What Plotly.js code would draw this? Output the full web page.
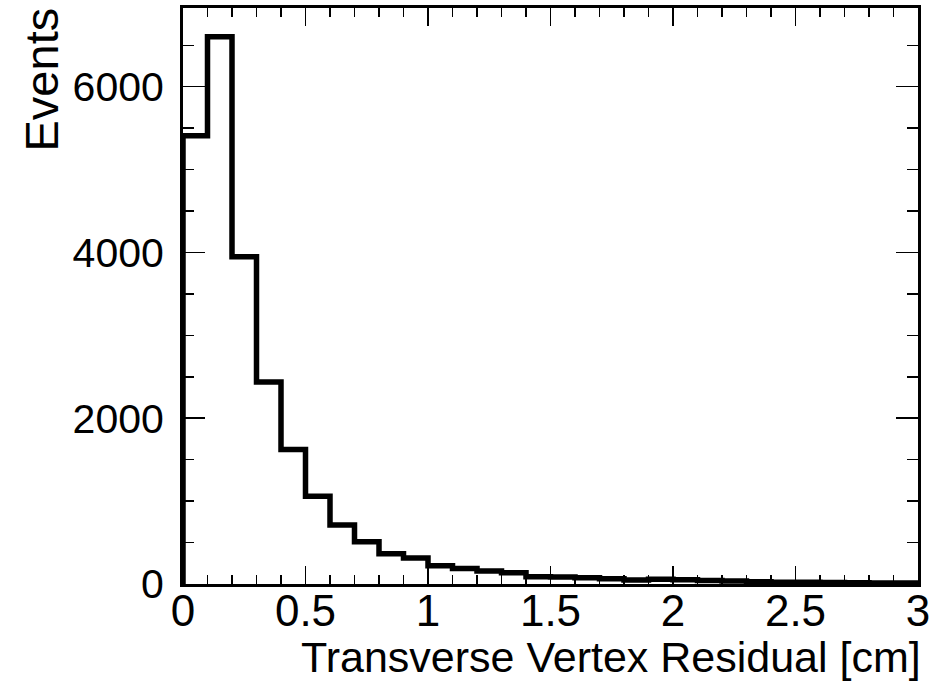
<!DOCTYPE html>
<html>
<head>
<meta charset="utf-8">
<script src="https://cdn.plot.ly/plotly-3.0.1.min.js"></script>
<style>html,body{margin:0;padding:0;background:#fff;}#chart{width:949px;height:681px;}</style>
</head>
<body>
<div id="chart"></div>
<script>
// Bin edges (width 0.1 cm) and counts per bin
const binLow = [0.0,0.1,0.2,0.3,0.4,0.5,0.6,0.7,0.8,0.9,1.0,1.1,1.2,1.3,1.4,1.5,1.6,1.7,1.8,1.9,2.0,2.1,2.2,2.3,2.4,2.5,2.6,2.7,2.8,2.9];
const binWidth = 0.1;
const counts = [5410,6602,3950,2438,1623,1060,711,510,365,314,219,187,157,136,88,84,76,64,48,57,50,42,35,28,22,20,17,15,13,12];
const xTitle = "Transverse Vertex Residual [cm]";
const yTitle = "Events";

// Build step outline from the arrays
const xs = [binLow[0]];
const ys = [0];
for (let i = 0; i < counts.length; i++) { xs.push(binLow[i]); ys.push(counts[i]); }
xs.push(binLow[binLow.length-1] + binWidth); ys.push(counts[counts.length-1]);
xs.push(binLow[binLow.length-1] + binWidth); ys.push(0);

const font = "'Liberation Sans', Arial, Helvetica, sans-serif";
const trace = {x: xs, y: ys, type: 'scatter', mode: 'lines',
  line: {shape: 'hv', color: '#000', width: 5.5}, hoverinfo: 'skip'};

const layout = {
  width: 949, height: 681,
  margin: {l: 183, r: 31, t: 8, b: 97},
  paper_bgcolor: '#fff', plot_bgcolor: '#fff',
  showlegend: false,
  font: {family: font, color: '#000'},
  xaxis: {range: [0, 3], tick0: 0, dtick: 0.5, ticks: 'inside', ticklen: 18, tickwidth: 1.5,
    tickcolor: '#000', showline: true, linewidth: 3, linecolor: '#000', mirror: 'ticks',
    showgrid: false, zeroline: false, tickfont: {size: 44, family: font}, ticklabelstandoff: -14,
    minor: {dtick: 0.1, ticks: 'inside', ticklen: 9, tickwidth: 1.5, tickcolor: '#000', showgrid: false}},
  yaxis: {range: [0, 6950], tick0: 0, dtick: 2000, ticks: 'inside', ticklen: 22, tickwidth: 1.5,
    tickcolor: '#000', showline: true, linewidth: 3, linecolor: '#000', mirror: 'ticks',
    showgrid: false, zeroline: false, tickfont: {size: 41, family: font}, ticklabelstandoff: 8,
    minor: {dtick: 500, ticks: 'inside', ticklen: 11, tickwidth: 1.5, tickcolor: '#000', showgrid: false}},
  annotations: [
    {text: xTitle, xref: 'paper', yref: 'paper', x: 1, y: 0, xanchor: 'right', yanchor: 'top',
     xshift: 5, yshift: -47, showarrow: false, font: {size: 43, family: font}},
    {text: yTitle, xref: 'paper', yref: 'paper', x: 0, y: 1, xanchor: 'right', yanchor: 'top',
     xshift: -114, yshift: 2, textangle: -90, showarrow: false, font: {size: 47, family: font}}
  ]
};
Plotly.newPlot('chart', [trace], layout, {staticPlot: true, displayModeBar: false});
</script>
</body>
</html>
